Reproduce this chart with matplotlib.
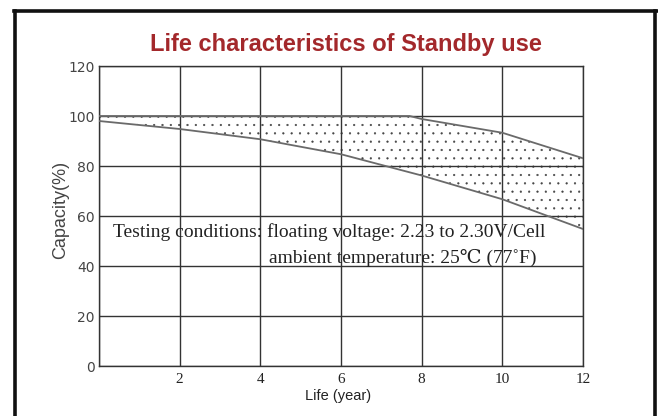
import matplotlib
matplotlib.use("Agg")
import matplotlib.pyplot as plt
from matplotlib.lines import Line2D
import numpy as np

# ---- data ----
upper_years = [0, 7.7, 8, 10, 12]
upper_capacity = [100, 100, 98.8, 93.3, 83.1]
lower_years = [0, 2, 4, 6, 8, 10, 12]
lower_capacity = [98.0, 94.8, 90.7, 84.7, 76.2, 66.7, 54.8]
x_ticks = [2, 4, 6, 8, 10, 12]
y_ticks = [0, 20, 40, 60, 80, 100, 120]
title = "Life characteristics of Standby use"
note_line1 = "Testing conditions: floating voltage: 2.23 to 2.30V/Cell"
note_line2 = "ambient temperature: 25\u2103 (77\u02daF)"

plt.rcParams['hatch.linewidth'] = 0.35
plt.rcParams['hatch.color'] = '#444444'

fig = plt.figure(figsize=(6.58, 4.16), dpi=100)
ax = fig.add_axes([99/658, 50/416, 484/658, 300/416])
ax.set_xlim(0, 12)
ax.set_ylim(0, 120)

# stippled band between the two curves
grid_x = np.linspace(0, 12, 241)
up = np.interp(grid_x, upper_years, upper_capacity)
lo = np.interp(grid_x, lower_years, lower_capacity)
ax.fill_between(grid_x, lo, up, facecolor='none', edgecolor='#444444',
                hatch='..', linewidth=0, zorder=1)

ax.plot(upper_years, upper_capacity, color='#6a6a6a', lw=1.3, zorder=3)
ax.plot(lower_years, lower_capacity, color='#6a6a6a', lw=1.3, zorder=3)

ax.set_xticks([0] + x_ticks)
ax.set_xticklabels([''] + [str(v) for v in x_ticks],
                   fontfamily='Liberation Serif', fontsize=11, color='#222222')
ax.set_yticks(y_ticks)
ax.set_yticklabels([str(v) for v in y_ticks], fontfamily='DejaVu Sans',
                   fontsize=10, color='#444444')
ax.tick_params(axis='both', length=0)
ax.tick_params(axis='y', pad=3.2)
ax.tick_params(axis='x', pad=5)
ax.grid(True, color='#333333', lw=1.0, zorder=2)
ax.set_axisbelow(False)
for s in ax.spines.values():
    s.set_color('#333333')
    s.set_linewidth(1.0)

fig.text(346/658, (416-50.7)/416, title, ha='center', va='baseline',
         fontfamily='Liberation Sans', fontweight='bold', fontsize=17,
         color='#a3282b')
fig.text(338/658, (416-400)/416, "Life (year)", ha='center', va='baseline',
         fontfamily='Liberation Sans', fontsize=10.5, color='#222222')
fig.text(61/658, (416-210)/416, "Capacity(%)", ha='center', va='center',
         rotation=90, fontfamily='Liberation Sans', fontsize=13, color='#444444')

ax.text(0.355, 51.6, note_line1, ha='left', va='baseline',
        fontfamily=['Liberation Serif', 'DejaVu Serif'], fontsize=14,
        color='#222222', zorder=4)
ax.text(10.85, 41.1, note_line2, ha='right', va='baseline',
        fontfamily=['Liberation Serif', 'DejaVu Serif'], fontsize=14,
        color='#222222', zorder=4)

# outer frame
def fx(px):
    return px / 658
def fy(py):
    return (416 - py) / 416
lw = 2.6
fig.add_artist(Line2D([fx(15), fx(15)], [fy(11), fy(420)], color='#111111', lw=lw))
fig.add_artist(Line2D([fx(13.5), fx(656.5)], [fy(11), fy(11)], color='#111111', lw=lw))
fig.add_artist(Line2D([fx(655), fx(655)], [fy(11), fy(420)], color='#111111', lw=lw))

fig.savefig("out.png", dpi=100)
